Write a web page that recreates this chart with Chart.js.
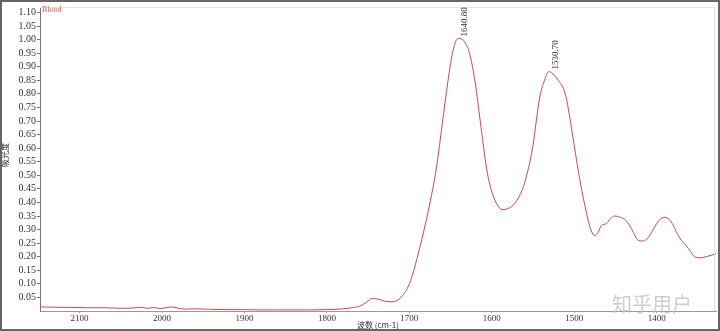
<!DOCTYPE html>
<html>
<head>
<meta charset="utf-8">
<script src="https://cdn.jsdelivr.net/npm/chart.js@4"></script>
<style>
    html, body { margin: 0; padding: 0; background: #fff; }
    #wrap { width: 720px; height: 331px; position: relative; }
</style>
</head>
<body>
<div id="wrap"><canvas id="irChart" width="720" height="331"></canvas></div>
<script>
// spectrum
const wavenumbers = [2148, 2130, 2110, 2090, 2070, 2050, 2035, 2025, 2018, 2010, 2003, 1995, 1988, 1980, 1972, 1960,
    1940, 1920, 1900, 1880, 1860, 1840, 1820, 1800, 1790, 1780, 1770, 1760, 1752, 1745, 1738, 1730, 1722, 1714,
    1708, 1703, 1697, 1691, 1685, 1679, 1673, 1667, 1660, 1653, 1647, 1640.8, 1634, 1627, 1620, 1614, 1606, 1599,
    1593, 1587, 1580, 1574, 1568, 1562, 1556, 1550, 1546, 1542, 1536, 1530.7, 1524, 1519, 1514, 1510, 1506, 1500,
    1493, 1485, 1480, 1475, 1471, 1467, 1461, 1456, 1451, 1444, 1437, 1430, 1423, 1417, 1412, 1406, 1400, 1395,
    1390, 1385, 1381, 1375, 1370, 1364, 1359, 1354, 1347, 1340, 1333, 1328];
const absorbance = [0.015, 0.014, 0.013, 0.012, 0.012, 0.010, 0.011, 0.014, 0.010, 0.013, 0.009, 0.012, 0.015, 0.010, 0.007, 0.008,
    0.006, 0.005, 0.005, 0.004, 0.004, 0.004, 0.004, 0.005, 0.006, 0.008, 0.012, 0.018, 0.032, 0.046, 0.044, 0.036, 0.034, 0.040,
    0.058, 0.080, 0.125, 0.190, 0.262, 0.340, 0.428, 0.530, 0.690, 0.850, 0.960, 1.004, 0.995, 0.950, 0.840, 0.700, 0.520, 0.430,
    0.390, 0.373, 0.378, 0.390, 0.415, 0.455, 0.520, 0.610, 0.700, 0.785, 0.850, 0.882, 0.868, 0.848, 0.825, 0.790, 0.725, 0.610,
    0.480, 0.360, 0.300, 0.278, 0.290, 0.315, 0.322, 0.340, 0.350, 0.345, 0.333, 0.300, 0.262, 0.258, 0.265, 0.290, 0.322, 0.340,
    0.345, 0.338, 0.322, 0.285, 0.260, 0.240, 0.220, 0.200, 0.196, 0.200, 0.206, 0.212];

const peakNames = ["1640.80", "1530.70"];
const peakWavenumbers = [1640.8, 1530.7];
const peakValues = [1.004, 0.882];

const xTicks = [2100, 2000, 1900, 1800, 1700, 1600, 1500, 1400];
const yTicks = [0.05, 0.10, 0.15, 0.20, 0.25, 0.30, 0.35, 0.40, 0.45, 0.50, 0.55,
    0.60, 0.65, 0.70, 0.75, 0.80, 0.85, 0.90, 0.95, 1.00, 1.05, 1.10];

const seriesName = "Blood";
const yTitle = "吸光度";
const xTitle = "波数 (cm-1)";
const watermark = "知乎用户";

const lineColor = "#c64a4d";
const tickFont = { family: "Liberation Serif", size: 10 };

// labels, frame, watermark
const extras = {
    id: "extras",
    afterDraw(chart) {
        const c = chart.ctx;
        const area = chart.chartArea;
        const xs = chart.scales.x;
        const ys = chart.scales.y;
        c.save();

        // light frame top / right
        c.strokeStyle = "#e2e2e2";
        c.lineWidth = 1;
        c.beginPath();
        c.moveTo(area.left, area.top + 0.5);
        c.lineTo(area.right - 1.5, area.top + 0.5);
        c.lineTo(area.right - 1.5, area.bottom);
        c.stroke();

        // peak labels
        c.fillStyle = "#333";
        c.font = "9px 'Liberation Serif'";
        c.textAlign = "left";
        c.textBaseline = "middle";
        peakNames.forEach(function (name, i) {
            const px = xs.getPixelForValue(peakWavenumbers[i]);
            const py = ys.getPixelForValue(peakValues[i]);
            c.save();
            c.translate(px + 7, py - 2);
            c.rotate(-Math.PI / 2);
            c.fillText(name, 0, 0);
            c.restore();
        });

        // series name
        c.fillStyle = "#d65a5a";
        c.font = "8px 'Liberation Serif'";
        c.textBaseline = "top";
        c.fillText(seriesName, area.left + 2, area.top - 1);

        // axis titles
        c.fillStyle = "#333";
        c.font = "8px 'Noto Sans CJK SC'";
        c.textAlign = "center";
        c.textBaseline = "middle";
        c.fillText(xTitle, 378, 325);
        c.save();
        c.translate(5, 155);
        c.rotate(-Math.PI / 2);
        c.fillText(yTitle, 0, 0);
        c.restore();

        // watermark
        c.font = "20px 'Noto Sans CJK SC'";
        c.textAlign = "left";
        c.fillStyle = "rgba(190,190,190,0.75)";
        c.fillText(watermark, 612, 304);

        // outer frame
        c.strokeStyle = "#666";
        c.lineWidth = 2;
        c.strokeRect(1, 1, 718, 329);
        c.restore();
    }
};

document.addEventListener("DOMContentLoaded", function () {
    const ctx = document.getElementById("irChart").getContext("2d");

    new Chart(ctx, {
        type: "line",
        data: {
            datasets: [{
                label: seriesName,
                data: wavenumbers.map((w, i) => ({ x: w, y: absorbance[i] })),
                borderColor: lineColor,
                borderWidth: 1,
                pointRadius: 0,
                fill: false,
                cubicInterpolationMode: "monotone"
            }]
        },
        options: {
            responsive: false,
            animation: false,
            layout: { padding: { top: 4, right: 4, left: 0, bottom: 0 } },
            plugins: {
                legend: { display: false },
                tooltip: { enabled: false }
            },
            scales: {
                x: {
                    type: "linear",
                    reverse: true,
                    min: 1328,
                    max: 2148,
                    afterBuildTicks: (s) => { s.ticks = xTicks.map(v => ({ value: v })); },
                    afterFit: (s) => { s.height = 20; },
                    border: { color: "#999", width: 1 },
                    grid: { drawOnChartArea: false, tickLength: 2, color: "#999" },
                    ticks: {
                        color: "#333",
                        font: { family: "Liberation Serif", size: 9 },
                        padding: 0,
                        maxRotation: 0,
                        autoSkip: false,
                        callback: (v) => String(v)
                    }
                },
                y: {
                    min: 0,
                    max: 1.12,
                    afterBuildTicks: (s) => { s.ticks = yTicks.map(v => ({ value: v })); },
                    afterFit: (s) => { s.width = 40; },
                    border: { color: "#777", width: 1, dash: [1, 1] },
                    grid: { drawOnChartArea: false, tickLength: 3, color: "#777" },
                    ticks: {
                        color: "#333",
                        font: tickFont,
                        padding: 1,
                        autoSkip: false,
                        callback: (v) => v.toFixed(2)
                    }
                }
            }
        },
        plugins: [extras]
    });
});
</script>
</body>
</html>
